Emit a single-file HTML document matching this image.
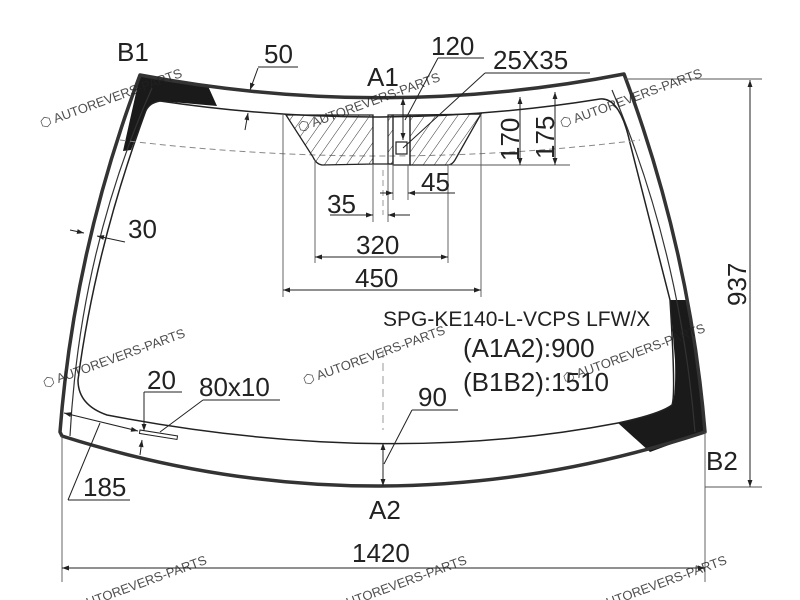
<!DOCTYPE html>
<html><head><meta charset="utf-8"><style>
html,body{margin:0;padding:0;background:#fff;width:800px;height:600px;overflow:hidden}
svg{display:block}
text{font-family:"Liberation Sans",Arial,sans-serif;fill:#222}
.wm{fill:#6fb3e0;font-size:13px;opacity:.8}
</style></head><body>
<svg width="800" height="600" viewBox="0 0 800 600" xmlns="http://www.w3.org/2000/svg">
<defs>
<marker id="a" viewBox="0 0 10 10" refX="10" refY="5" markerWidth="9" markerHeight="7" orient="auto-start-reverse"><path d="M0,1.5 L10,5 L0,8.5z" fill="#222"/></marker>
<pattern id="h" width="9" height="9" patternUnits="userSpaceOnUse" patternTransform="rotate(35)"><line x1="0" y1="0" x2="0" y2="9" stroke="#333" stroke-width="1"/></pattern>
</defs>

<path d="M140,75 L208,86 L217,106 L160,101 Q148,103 145,113 L131,150 L123,151 Z" fill="#1a1a1a"/>
<path d="M688,300 Q700,370 704,432 L650,452 L618,423 Q660,414 672,405 Q676,395 675,360 L670,300 Z" fill="#1a1a1a"/>

<path d="M140,75 Q383,121 624,74 Q690,250 705,432 Q383,538 62,436 L60,432 Q74,250 140,75 Z" fill="none" stroke="#333" stroke-width="3.5" stroke-linejoin="round"/>
<path d="M152,88 Q80,250 70,436" fill="none" stroke="#333" stroke-width="1.2"/>
<path d="M612,90 Q680,250 695,432" fill="none" stroke="#333" stroke-width="1.2"/>
<path d="M160,101 Q383,134 600,99 Q620,97 630,143 L670,300 Q676,395 672,405 Q660,414 618,423 Q383,468 107,415 Q78,405 78,380 Q95,250 145,113 Q148,103 160,101 Z" fill="none" stroke="#222" stroke-width="1.5"/>

<path d="M120,140 Q383,172 640,140" fill="none" stroke="#888" stroke-width="1" stroke-dasharray="6,4"/>

<path d="M286,115 L373,115 L373,164 L322,165 Q316,164 313,157 Z" fill="url(#h)" stroke="#222" stroke-width="1.3"/>
<path d="M388,115 L393,115 L393,164 L388,164 Z" fill="url(#h)" stroke="#222" stroke-width="1.2"/>
<path d="M410,115 L481,114 L455,160 Q452,165 448,165 L410,165 Z" fill="url(#h)" stroke="#222" stroke-width="1.3"/>
<path d="M393,115 L410,115 L410,165 L393,165 Z" fill="none" stroke="#222" stroke-width="1.2"/>
<rect x="396" y="142" width="11" height="12" fill="#fff" stroke="#222" stroke-width="1.2"/>
<path d="M373,164 L393,164" stroke="#222" stroke-width="1.2"/>

<g stroke="#555" stroke-width="0.9" fill="none">
<line x1="283" y1="115" x2="283" y2="297"/>
<line x1="481" y1="114" x2="481" y2="297"/>
<line x1="315" y1="160" x2="315" y2="263"/>
<line x1="448" y1="165" x2="448" y2="263"/>
<line x1="373" y1="164" x2="373" y2="222"/>
<line x1="388" y1="164" x2="388" y2="222"/>
<line x1="393" y1="164" x2="393" y2="200"/>
<line x1="408" y1="165" x2="408" y2="200"/>
<line x1="448" y1="165" x2="570" y2="165"/>
<line x1="625" y1="79" x2="762" y2="79"/>
<line x1="705" y1="487" x2="762" y2="487"/>
<line x1="62" y1="436" x2="62" y2="582"/>
<line x1="705" y1="432" x2="705" y2="582"/>
</g>
<line x1="383" y1="350" x2="383" y2="430" stroke="#999" stroke-dasharray="8,5"/>
<line x1="383" y1="170" x2="383" y2="215" stroke="#999" stroke-dasharray="6,4"/>

<g stroke="#222" stroke-width="1" fill="none">
<line x1="283" y1="290" x2="481" y2="290" marker-start="url(#a)" marker-end="url(#a)"/>
<line x1="315" y1="257" x2="448" y2="257" marker-start="url(#a)" marker-end="url(#a)"/>
<line x1="330" y1="215" x2="373" y2="215" marker-end="url(#a)"/>
<line x1="410" y1="215" x2="388" y2="215" marker-end="url(#a)"/>
<line x1="380" y1="193" x2="393" y2="193" marker-end="url(#a)"/>
<line x1="455" y1="193" x2="408" y2="193" marker-end="url(#a)"/>
<line x1="520" y1="97" x2="520" y2="165" marker-start="url(#a)" marker-end="url(#a)"/>
<line x1="555" y1="92" x2="555" y2="165" marker-start="url(#a)" marker-end="url(#a)"/>
<line x1="750" y1="80" x2="750" y2="487" marker-start="url(#a)" marker-end="url(#a)"/>
<line x1="62" y1="568" x2="705" y2="568" marker-start="url(#a)" marker-end="url(#a)"/>
<line x1="403" y1="98" x2="403" y2="140" marker-start="url(#a)" marker-end="url(#a)"/>
<line x1="383" y1="443" x2="383" y2="486" marker-start="url(#a)" marker-end="url(#a)"/>
<line x1="258" y1="68" x2="250" y2="90" marker-end="url(#a)"/>
<line x1="245" y1="130" x2="248" y2="113" marker-end="url(#a)"/>
<line x1="258" y1="67" x2="298" y2="67"/>
<line x1="405" y1="120" x2="438" y2="58"/><line x1="438" y1="58" x2="484" y2="58"/>
<line x1="403" y1="148" x2="485" y2="73"/><line x1="485" y1="73" x2="590" y2="73"/>
<line x1="70" y1="230" x2="84" y2="233" marker-end="url(#a)"/>
<line x1="125" y1="242" x2="97" y2="236" marker-end="url(#a)"/>
<line x1="64" y1="413" x2="138" y2="431" marker-start="url(#a)" marker-end="url(#a)"/>
<line x1="68" y1="500" x2="100" y2="423"/><line x1="68" y1="500" x2="130" y2="500"/>
<line x1="144" y1="392" x2="144" y2="431" marker-end="url(#a)"/>
<line x1="140" y1="455" x2="142" y2="440" marker-end="url(#a)"/>
<line x1="144" y1="392" x2="182" y2="392"/>
<line x1="160" y1="432" x2="203" y2="400"/><line x1="203" y1="400" x2="280" y2="400"/>
<line x1="384" y1="464" x2="412" y2="410"/><line x1="412" y1="410" x2="458" y2="410"/>
</g>
<rect x="140" y="430" width="38" height="3.5" transform="rotate(9 140 430)" fill="#fff" stroke="#222" stroke-width="1"/>

<g font-size="26">
<text x="117" y="61">B1</text>
<text x="264" y="63">50</text>
<text x="367" y="86">A1</text>
<text x="431" y="55">120</text>
<text x="493" y="69">25X35</text>
<text x="128" y="238">30</text>
<text x="421" y="191">45</text>
<text x="327" y="213">35</text>
<text x="356" y="254">320</text>
<text x="355" y="287">450</text>
<text x="463" y="357">(A1A2):900</text>
<text x="463" y="391">(B1B2):1510</text>
<text x="147" y="389">20</text>
<text x="199" y="396">80x10</text>
<text x="418" y="406">90</text>
<text x="83" y="496">185</text>
<text x="369" y="519">A2</text>
<text x="352" y="562">1420</text>
<text x="706" y="470">B2</text>
<text transform="translate(519,161) rotate(-90)">170</text>
<text transform="translate(554,159) rotate(-90)">175</text>
<text transform="translate(746,306) rotate(-90)">937</text>
</g>
<text x="383" y="326" font-size="21">SPG-KE140-L-VCPS LFW/X</text>

<g class="wm">
<text transform="translate(42,128) rotate(-20)">⬡ AUTOREVERS-PARTS</text>
<text transform="translate(300,132) rotate(-20)">⬡ AUTOREVERS-PARTS</text>
<text transform="translate(562,128) rotate(-20)">⬡ AUTOREVERS-PARTS</text>
<text transform="translate(45,388) rotate(-20)">⬡ AUTOREVERS-PARTS</text>
<text transform="translate(305,385) rotate(-20)">⬡ AUTOREVERS-PARTS</text>
<text transform="translate(565,383) rotate(-20)">⬡ AUTOREVERS-PARTS</text>
<text transform="translate(80,610) rotate(-20)">AUTOREVERS-PARTS</text>
<text transform="translate(340,610) rotate(-20)">AUTOREVERS-PARTS</text>
<text transform="translate(600,610) rotate(-20)">AUTOREVERS-PARTS</text>
</g>
</svg>
</body></html>
